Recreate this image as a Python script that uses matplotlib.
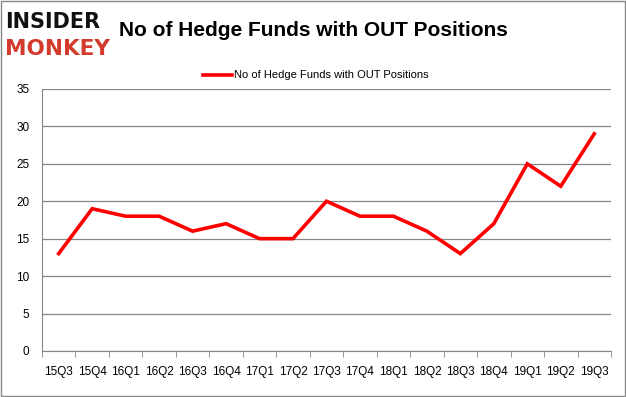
import matplotlib
matplotlib.use("Agg")
import matplotlib.pyplot as plt
from matplotlib.patches import Rectangle
import numpy as np

quarters = ["15Q3", "15Q4", "16Q1", "16Q2", "16Q3", "16Q4", "17Q1", "17Q2", "17Q3",
            "17Q4", "18Q1", "18Q2", "18Q3", "18Q4", "19Q1", "19Q2", "19Q3"]
funds = [13, 19, 18, 18, 16, 17, 15, 15, 20, 18, 18, 16, 13, 17, 25, 22, 29]
series_name = "No of Hedge Funds with OUT Positions"

plt.rcParams['font.family'] = ['Liberation Sans', 'DejaVu Sans']

fig = plt.figure(figsize=(6.26, 3.97), dpi=100)
ax = fig.add_axes([0.067, 0.116, 0.909, 0.66])

x = np.arange(len(quarters))
line, = ax.plot(x, funds, color='#ff0000', lw=2.6, solid_joinstyle='miter')

ax.set_xlim(-0.5, len(quarters) - 0.5)
ax.set_ylim(0, 35)
ax.set_yticks(range(0, 36, 5))
ax.yaxis.grid(True, color='#868686', lw=0.9)
ax.set_axisbelow(True)

ax.set_xticks(x)
ax.set_xticklabels(quarters, fontsize=8.5)
ax.set_xticks(np.arange(-0.5, len(quarters), 1), minor=True)
ax.tick_params(axis='x', which='major', length=0, pad=11)
ax.tick_params(axis='x', which='minor', length=4, color='#868686', direction='out')
ax.tick_params(axis='y', length=0, labelsize=8.5, pad=9)

for s in ['top', 'right']:
    ax.spines[s].set_visible(False)
ax.spines['left'].set_color('#868686')
ax.spines['bottom'].set_color('#868686')

fig.text(0.5, 0.922, series_name, ha='center', va='center',
         fontsize=15, fontweight='bold')
fig.legend([line], [series_name], loc='center', bbox_to_anchor=(0.505, 0.81),
           frameon=False, fontsize=8, handlelength=2.6, handletextpad=0.2)

# logo
fig.text(0.008, 0.945, "INSIDER", ha='left', va='center', fontsize=15,
         fontweight='bold', color='#111111', family='DejaVu Sans')
fig.text(0.008, 0.877, "MONKEY", ha='left', va='center', fontsize=15.5,
         fontweight='bold', color='#d23a2b', family='DejaVu Sans')

fig.patches.append(Rectangle((0.0015, 0.002), 0.997, 0.995, transform=fig.transFigure,
                             fill=False, edgecolor='#868686', lw=1))

fig.savefig("out.png", dpi=100)
